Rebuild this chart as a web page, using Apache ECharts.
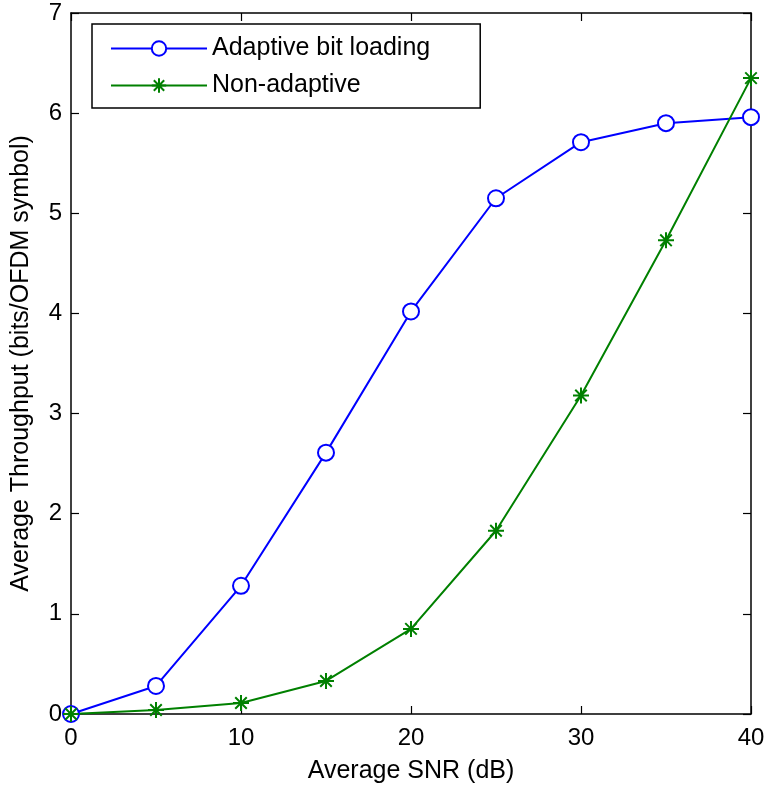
<!DOCTYPE html>
<html>
<head>
<meta charset="utf-8">
<script src="https://cdn.jsdelivr.net/npm/echarts@6/dist/echarts.min.js"></script>
<style>html,body{margin:0;padding:0;background:#fff;}#c{width:766px;height:786px;}</style>
</head>
<body>
<div id="c"></div>
<script>
const snr = [0, 5, 10, 15, 20, 25, 30, 35, 40];
const adaptive = [0, 0.28, 1.28, 2.61, 4.02, 5.15, 5.71, 5.90, 5.96];
const nonAdaptive = [0, 0.04, 0.11, 0.33, 0.85, 1.83, 3.18, 4.73, 6.35];
const seriesNames = ['Adaptive bit loading', 'Non-adaptive'];
const xTicks = [0, 10, 20, 30, 40];
const yTicks = [0, 1, 2, 3, 4, 5, 6, 7];

const FONT = 'Liberation Sans';
const chart = echarts.init(document.getElementById('c'));
const star = 'path://M0,-10L0,10M-10,0L10,0M-7.2,-7.2L7.2,7.2M-7.2,7.2L7.2,-7.2';
const axisCommon = {
  type: 'value',
  axisLine: {show: true, onZero: false, lineStyle: {color: '#000', width: 1.5}},
  axisTick: {show: true, inside: true, length: 8, lineStyle: {color: '#000', width: 1.2}},
  splitLine: {show: false}
};
chart.setOption({
  animation: false,
  backgroundColor: '#fff',
  grid: {left: 71, right: 15, top: 13, bottom: 72, containLabel: false, outerBoundsMode: 'none'},
  legend: {
    left: 92, top: 24, orient: 'vertical',
    data: seriesNames,
    itemWidth: 96, itemHeight: 18, itemGap: 12,
    padding: [12, 50, 10, 18],
    borderColor: '#000', borderWidth: 1.5, backgroundColor: '#fff',
    textStyle: {fontFamily: FONT, fontSize: 25, color: '#000'}
  },
  xAxis: [
    Object.assign({}, axisCommon, {
      min: 0, max: 40, interval: 10, position: 'bottom',
      name: 'Average SNR (dB)', nameLocation: 'middle', nameGap: 45,
      nameTextStyle: {fontFamily: FONT, fontSize: 25, color: '#000'},
      axisLabel: {fontFamily: FONT, fontSize: 24, color: '#000', margin: 12,
        formatter: v => xTicks.includes(v) ? String(v) : ''}
    }),
    Object.assign({}, axisCommon, {
      min: 0, max: 40, interval: 10, position: 'top', axisLabel: {show: false}
    })
  ],
  yAxis: [
    Object.assign({}, axisCommon, {
      min: 0, max: 7, interval: 1, position: 'left',
      name: 'Average Throughput (bits/OFDM symbol)', nameLocation: 'middle', nameGap: 37,
      nameTextStyle: {fontFamily: FONT, fontSize: 25, color: '#000'},
      axisLabel: {fontFamily: FONT, fontSize: 24, color: '#000', margin: 9,
        formatter: v => yTicks.includes(v) ? String(v) : ''}
    }),
    Object.assign({}, axisCommon, {
      min: 0, max: 7, interval: 1, position: 'right', axisLabel: {show: false}
    })
  ],
  series: [
    {
      name: seriesNames[0], type: 'line', xAxisIndex: 0, yAxisIndex: 0,
      data: snr.map((x, i) => [x, adaptive[i]]),
      symbol: 'emptyCircle', symbolSize: 16, showAllSymbol: true,
      lineStyle: {color: '#0000ff', width: 2},
      itemStyle: {color: '#0000ff', borderColor: '#0000ff', borderWidth: 2},
      emphasis: {disabled: true}
    },
    {
      name: seriesNames[1], type: 'line', xAxisIndex: 0, yAxisIndex: 0,
      data: snr.map((x, i) => [x, nonAdaptive[i]]),
      symbol: star, symbolSize: 16, showAllSymbol: true,
      lineStyle: {color: '#008000', width: 2},
      itemStyle: {color: '#008000', borderColor: '#008000', borderWidth: 2},
      emphasis: {disabled: true}
    }
  ]
});
</script>
</body>
</html>
